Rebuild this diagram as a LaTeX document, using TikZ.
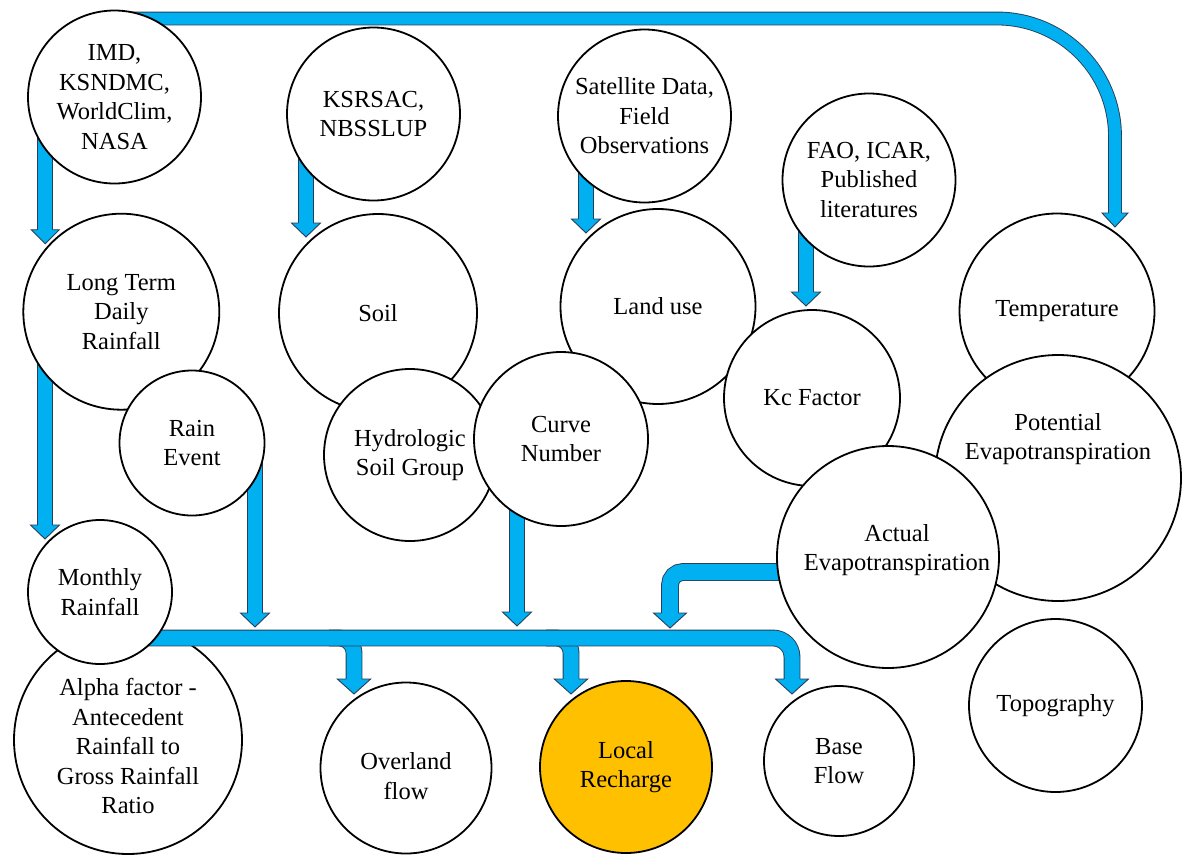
\documentclass[tikz,border=0pt]{standalone}
\usepackage{fontspec}
\setmainfont{Liberation Serif}
\usetikzlibrary{calc}
\pgfdeclarelayer{bottom}
\pgfdeclarelayer{background}
\pgfsetlayers{bottom,background,main}
\definecolor{arrblue}{RGB}{0,176,240}
\definecolor{arrline}{RGB}{40,62,88}
\definecolor{gold}{RGB}{255,192,0}
\newcommand\dhead[4]{%
  \filldraw[bhead] ($(#1)+(-#4,-#3)$) -- ($(#1)+(-#2,-#3)$) -- (#1) -- ($(#1)+(#2,-#3)$) -- ($(#1)+(#4,-#3)$);%
}
\begin{document}
\begin{tikzpicture}[x=1pt,y=-1pt,
  bub/.style={circle, draw=black, line width=1.8pt, fill=white, inner sep=0pt,
    minimum size=#1pt, align=center, font=\fontsize{24.5}{29.5}\selectfont},
  lbl/.style={align=center, inner sep=0pt, font=\fontsize{24.5}{29.5}\selectfont},
  bshaft/.style={draw=arrline, line width=0.9pt, double=arrblue, double distance=#1},
  bhead/.style={fill=arrblue, draw=arrline, line width=0.9pt, line join=miter}
]
\begin{pgfonlayer}{bottom}
\fill[white] (0,0) rectangle (1183,854);
\end{pgfonlayer}
\useasboundingbox (0,0) rectangle (1183,854);

% circles
\node[bub=173] (imd)  at (114.5,97)  {IMD,\\KSNDMC,\\WorldClim,\\NASA};
\node[bub=173] (ks)   at (373.5,114) {KSRSAC,\\NBSSLUP};
\node[bub=173] (sat)  at (644.5,116) {Satellite Data,\\Field\\Observations};
\node[bub=173] (fao)  at (869,180)   {FAO, ICAR,\\Published\\literatures};
\node[bub=196] (lt)   at (121.3,311.7) {Long Term\\Daily\\Rainfall};
\node[bub=198] (soil) at (378,313)   {Soil};
\node[bub=195] (land) at (658,306.5) {Land use};
\node[bub=195] (temp) at (1057,311)  {Temperature};
\node[bub=145] (rain) at (192,443)   {Rain\\Event};
\node[bub=172] (hsg)  at (410,455)   {Hydrologic\\Soil Group};
\node[bub=176] (kc)   at (812,398)   {Kc Factor};
\node[bub=246, label={[lbl,yshift=39pt]center:{Potential\\Evapotranspiration}}] (pet) at (1058,478) {};
\node[bub=174] (cn)   at (561,439)   {Curve\\Number};
\node[bub=222, label={[lbl,xshift=9pt,yshift=7pt]center:{Actual\\Evapotranspiration}}] (aet) at (888,557) {};
\begin{pgfonlayer}{bottom}
\node[bub=228, label={[lbl,yshift=-6pt]center:{Alpha factor -\\Antecedent\\Rainfall to\\Gross Rainfall\\Ratio}}] (alpha) at (128,740) {};
\end{pgfonlayer}
\node[bub=144] (mr)   at (100,592)   {Monthly\\Rainfall};
\node[bub=171, label={[lbl,yshift=-8pt]center:{Overland\\flow}}] (ov) at (406,768) {};
\node[bub=172, fill=gold] (lr) at (626,767) {Local\\Recharge};
\node[bub=150] (bf)   at (839,761)   {Base\\Flow};
\node[bub=173] (topo) at (1055.5,705.5) {Topography};

% arrow coordinates
\coordinate (busy) at (0,638);
\coordinate (topy) at (0,18.5);
\coordinate (tA) at ($(lt.center)+(-76,-68)$);
\coordinate (tB) at ($(soil.center)+(-72,-76)$);
\coordinate (tC) at ($(land.center)+(-72,-73.5)$);
\coordinate (tD) at ($(kc.center)+(-6,-92)$);
\coordinate (tE) at ($(temp.center)+(58,-84)$);
\coordinate (tF) at ($(mr.center)+(-55,-53)$);
\coordinate (tG) at (255,627);
\coordinate (tH) at (517,626);
\coordinate (tI) at (670,628);
\coordinate (cI) at (670,572);
\coordinate (tJ) at ($(bf.center)+(-47,-67)$);
\coordinate (tK) at ($(ov.center)+(-52,-74)$);
\coordinate (tL) at ($(lr.center)+(-55,-73)$);

\begin{pgfonlayer}{background}
% branches from bus
\draw[bshaft=15pt, rounded corners=15pt] ($(tK |- busy)+(-25,0)$) -- (tK |- busy) -- ($(tK)+(0,-14)$);
\dhead{tK}{16.7}{15}{7.95}
\draw[bshaft=15pt, rounded corners=15pt] ($(tL |- busy)+(-25,0)$) -- (tL |- busy) -- ($(tL)+(0,-14)$);
\dhead{tL}{16.7}{15}{7.95}
% main bus
\draw[bshaft=15pt, rounded corners=19pt] (mr.center |- busy) -- (tJ |- busy) -- ($(tJ)+(0,-14)$);
\dhead{tJ}{16.5}{15}{7.95}
% top arrow
\draw[bshaft=12pt, rounded corners=118pt] (imd.center |- topy) -- (tE |- topy) -- ($(tE)+(0,-13)$);
\dhead{tE}{13}{14}{6.45}
% vertical arrows
\draw[bshaft=14pt] (imd.center -| tA) -- ($(tA)+(0,-13)$);
\dhead{tA}{14}{14}{7.45}
\draw[bshaft=14pt] (ks.center -| tB) -- ($(tB)+(0,-13)$);
\dhead{tB}{14.5}{14}{7.45}
\draw[bshaft=14pt] (sat.center -| tC) -- ($(tC)+(0,-13)$);
\dhead{tC}{14.5}{14}{7.45}
\draw[bshaft=14pt] (fao.center -| tD) -- ($(tD)+(0,-13)$);
\dhead{tD}{14.5}{14}{7.45}
\draw[bshaft=14pt] (lt.center -| tF) -- ($(tF)+(0,-13)$);
\dhead{tF}{14.5}{14}{7.45}
\draw[bshaft=14pt] (rain.center -| tG) -- ($(tG)+(0,-13)$);
\dhead{tG}{14.5}{14}{7.45}
\draw[bshaft=14pt] (cn.center -| tH) -- ($(tH)+(0,-13)$);
\dhead{tH}{14.5}{14}{7.45}
\draw[bshaft=16pt, rounded corners=13pt] (aet.center |- cI) -- (cI) -- ($(tI)+(0,-14)$);
\dhead{tI}{16.5}{15}{8.45}
\end{pgfonlayer}
\end{tikzpicture}
\end{document}
